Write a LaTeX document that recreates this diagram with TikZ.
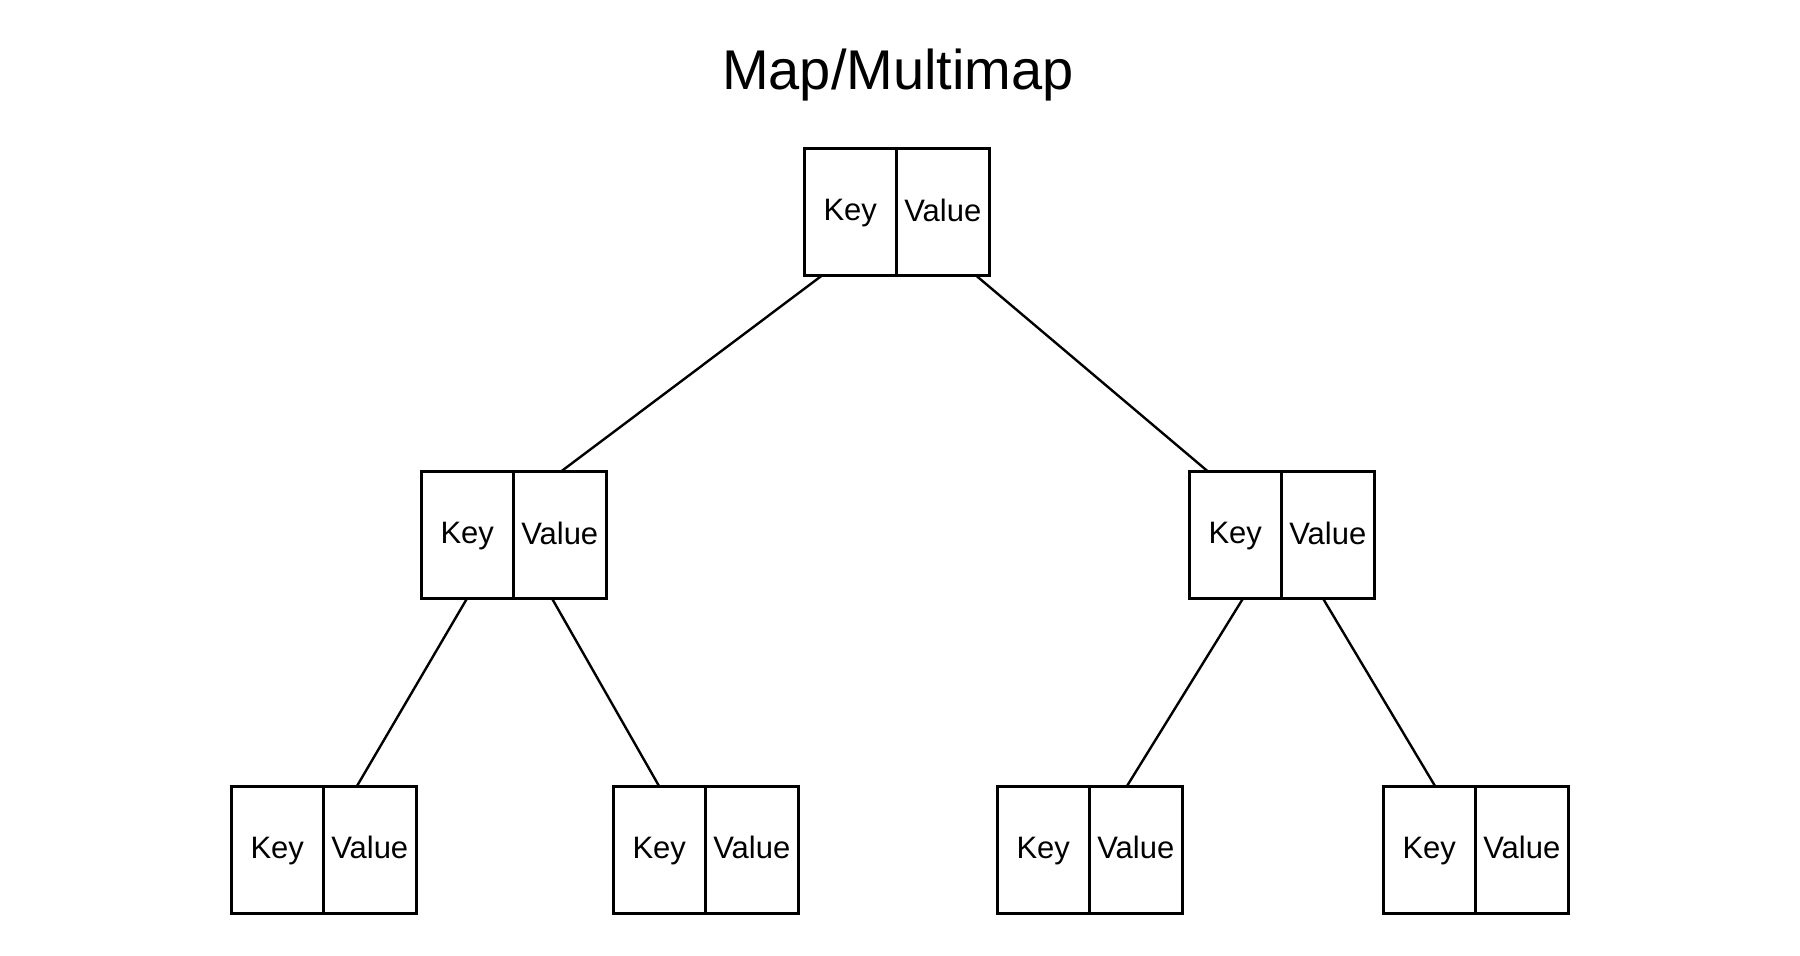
\documentclass[tikz,border=0pt]{standalone}
\usepackage{fontspec}
\setmainfont{Liberation Sans}
\usetikzlibrary{positioning}

\tikzset{
    cell/.style={draw, line width=3pt, minimum width=92.5pt, minimum height=127pt,
        inner sep=0pt, outer sep=0pt, text depth=4pt, font=\fontsize{31}{37}\selectfont},
    link/.style={line width=2.4pt}
}

\begin{document}
\begin{tikzpicture}[x=1pt, y=-1pt]
    \fill[white] (0,0) rectangle (1800,956);
    \useasboundingbox (0,0) rectangle (1800,956);

    % Title
    \node[anchor=base, font=\fontsize{56}{66}\selectfont] (title) at (898,89) {Map/Multimap};

    % Root
    \node[cell] (rootK) at (850.25,212) {Key};
    \node[cell, right=0pt of rootK] (rootV) {Value};

    % Second level
    \node[cell] (mlK) at (467.25,535) {Key};
    \node[cell, right=0pt of mlK] (mlV) {Value};
    \node[cell] (mrK) at (1235.25,535) {Key};
    \node[cell, right=0pt of mrK] (mrV) {Value};

    % Leaves
    \node[cell] (aK) at (277.25,849.5) {Key};
    \node[cell, right=0pt of aK] (aV) {Value};
    \node[cell] (bK) at (659.25,849.5) {Key};
    \node[cell, right=0pt of bK] (bV) {Value};
    \node[cell] (cK) at (1043.25,849.5) {Key};
    \node[cell, right=0pt of cK] (cV) {Value};
    \node[cell] (dK) at (1429.25,849.5) {Key};
    \node[cell, right=0pt of dK] (dV) {Value};

    % Links
    \draw[link] ([xshift=18pt]rootK.south west) -- ([xshift=140pt]mlK.north west);
    \draw[link] ([xshift=172pt]rootK.south west) -- ([xshift=19pt]mrK.north west);
    \draw[link] ([xshift=46pt]mlK.south west) -- ([xshift=126pt]aK.north west);
    \draw[link] ([xshift=131pt]mlK.south west) -- ([xshift=46pt]bK.north west);
    \draw[link] ([xshift=54pt]mrK.south west) -- ([xshift=130pt]cK.north west);
    \draw[link] ([xshift=134pt]mrK.south west) -- ([xshift=52pt]dK.north west);
\end{tikzpicture}
\end{document}
